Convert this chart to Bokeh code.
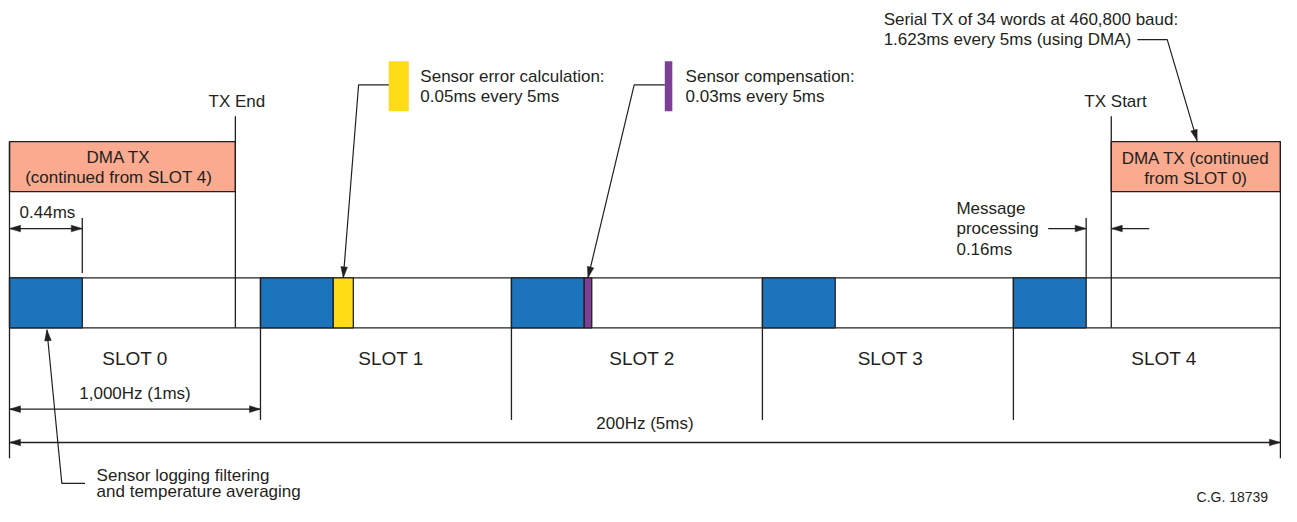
import math
from bokeh.plotting import figure
from bokeh.models import Range1d, ColumnDataSource
from bokeh.core.properties import value
from bokeh.embed import file_html
from bokeh.resources import INLINE

# ---------------- data (ms, as drawn) ----------------
slots = ["SLOT 0", "SLOT 1", "SLOT 2", "SLOT 3", "SLOT 4"]
slot_start = [0.0, 1.0, 2.0, 3.0, 4.0]
frame_end = 5.064           # drawn end of the 5 ms frame
filter_ms = [0.29, 0.29, 0.29, 0.29, 0.29]   # sensor logging / filtering blocks
err_calc_ms = 0.08          # sensor error calculation (slot 1)
comp_ms = 0.03              # sensor compensation (slot 2)
tx_end = 0.90
tx_start = 4.39
dim_labels = ["0.44ms", "1,000Hz (1ms)", "200Hz (5ms)"]

# ---------------- style / layout ----------------
W, H = 1281, 506
PX_PER_MS = 252.75 * 1271.0 / 1280.0
X0 = -9.0 / PX_PER_MS
X1 = X0 + W / PX_PER_MS
Y_SCALE = 0.98                      # screen px per layout unit (vertical)
BLUE = "#1C75BC"
SALMON = "#F9AA8F"
YELLOW = "#FFDC16"
PURPLE = "#7D3F98"
INK = "#231F20"
FONT = value("Liberation Sans")
FS = "17px"

Y_MARK_TOP, Y_DMA_TOP, Y_DMA_BOT = 118, 144, 195
Y_DIM, Y_EXT_TOP = 232.7, 222
Y_BAR_TOP, Y_BAR_BOT = 283, 334
Y_SLOT_LBL, Y_1MS, Y_SLOT_LINE_BOT, Y_5MS, Y_FRAME_BOT = 365, 417, 428, 451, 467

p = figure(width=W, height=H, output_backend="svg", toolbar_location=None,
           x_range=Range1d(X0, X1), y_range=Range1d(H / Y_SCALE, 0),
           min_border=0, outline_line_color=None,
           x_axis_location=None, y_axis_location=None)
p.grid.visible = False
p.background_fill_color = "white"
p.border_fill_color = "white"

heads = {"xs": [], "ys": []}


def head(xt, yt, xf, yf, L=11.0, Wd=3.3):
    dx = (xt - xf) * PX_PER_MS
    dy = (yt - yf) * Y_SCALE
    n = math.hypot(dx, dy)
    ux, uy = dx / n, dy / n
    bx, by = -L * ux, -L * uy
    px, py = -uy * Wd, ux * Wd
    heads["xs"].append([xt, xt + (bx + px) / PX_PER_MS, xt + (bx - px) / PX_PER_MS])
    heads["ys"].append([yt, yt + (by + py) / Y_SCALE, yt + (by - py) / Y_SCALE])


def seg(x0, y0, x1, y1, w=1.3):
    p.segment(x0=[x0], y0=[y0], x1=[x1], y1=[y1], line_color=INK, line_width=w)


def txt(x, y, s, align="left", size=FS):
    p.text(x=[x], y=[y], text=[s], text_font=FONT, text_font_size=size,
           text_color=INK, text_align=align, text_baseline="middle")


# DMA boxes
p.quad(left=[0.0, tx_start], right=[tx_end, frame_end], top=[Y_DMA_TOP] * 2,
       bottom=[Y_DMA_BOT] * 2, fill_color=SALMON, line_color=INK, line_width=1.3)

# bar row outline
seg(0.0, Y_BAR_TOP, frame_end, Y_BAR_TOP)
seg(0.0, Y_BAR_BOT, frame_end, Y_BAR_BOT)

# blocks
blk_l = list(slot_start)
blk_r = [s + f for s, f in zip(slot_start, filter_ms)]
p.quad(left=blk_l, right=blk_r, top=[Y_BAR_TOP] * 5, bottom=[Y_BAR_BOT] * 5,
       fill_color=BLUE, line_color=INK, line_width=1.3)
err_l = slot_start[1] + filter_ms[1]
cmp_l = slot_start[2] + filter_ms[2]
p.quad(left=[err_l, cmp_l], right=[err_l + err_calc_ms, cmp_l + comp_ms],
       top=[Y_BAR_TOP] * 2, bottom=[Y_BAR_BOT] * 2,
       fill_color=[YELLOW, PURPLE], line_color=INK, line_width=1.3)

# vertical lines
seg(0.0, Y_DMA_TOP, 0.0, Y_FRAME_BOT)
seg(frame_end, Y_DMA_TOP, frame_end, Y_FRAME_BOT)
for s in slot_start[1:]:
    seg(s, Y_BAR_TOP, s, Y_SLOT_LINE_BOT)
seg(tx_end, Y_MARK_TOP, tx_end, Y_BAR_BOT)
seg(tx_start, Y_MARK_TOP, tx_start, Y_BAR_BOT)
seg(blk_r[0], Y_EXT_TOP, blk_r[0], Y_BAR_TOP - 5)
seg(blk_r[4], Y_EXT_TOP, blk_r[4], Y_BAR_TOP)

# dimension arrows
seg(0.0, Y_DIM, blk_r[0], Y_DIM)
head(0.0, Y_DIM, blk_r[0], Y_DIM)
head(blk_r[0], Y_DIM, 0.0, Y_DIM)

mp_from_l = blk_r[4] - 38 / PX_PER_MS
mp_from_r = tx_start + 38 / PX_PER_MS
seg(mp_from_l, Y_DIM, blk_r[4], Y_DIM)
head(blk_r[4], Y_DIM, mp_from_l, Y_DIM)
seg(tx_start, Y_DIM, mp_from_r, Y_DIM)
head(tx_start, Y_DIM, mp_from_r, Y_DIM)

seg(0.0, Y_1MS, slot_start[1], Y_1MS)
head(0.0, Y_1MS, 1.0, Y_1MS)
head(slot_start[1], Y_1MS, 0.0, Y_1MS)

seg(0.0, Y_5MS, frame_end, Y_5MS)
head(0.0, Y_5MS, frame_end, Y_5MS)
head(frame_end, Y_5MS, 0.0, Y_5MS)

# legend swatches
sw_err = 1.511
sw_cmp = 2.611
p.quad(left=[sw_err, sw_cmp], right=[sw_err + err_calc_ms, sw_cmp + comp_ms],
       top=[62, 62], bottom=[113, 113], fill_color=[YELLOW, PURPLE], line_color=None)


# leader lines
def leader(xs, ys):
    p.line(x=xs, y=ys, line_color=INK, line_width=1.2)
    head(xs[-1], ys[-1], xs[-2], ys[-2])


leader([sw_err, 1.391, err_l + err_calc_ms / 2], [86, 86, Y_BAR_TOP])
leader([sw_cmp, 2.489, cmp_l + comp_ms / 2], [86, 86, Y_BAR_TOP])
leader([4.494, 4.613, 4.732], [40, 40, Y_DMA_TOP - 1])
leader([0.301, 0.2085, blk_r[0] / 2 + 0.004], [492.7, 492.7, Y_BAR_BOT + 2])

p.patches(xs="xs", ys="ys", source=ColumnDataSource(heads), fill_color=INK,
          line_color=INK, line_width=0.5)

# texts
txt(tx_end + 0.006, 103, "TX End", "center")
txt(tx_start + 0.017, 103, "TX Start", "center")
txt(0.435, 160, "DMA TX", "center")
txt(0.435, 181, "(continued from SLOT 4)", "center")
mid_r = (tx_start + frame_end) / 2
txt(mid_r, 161, "DMA TX (continued", "center")
txt(mid_r, 182, "from SLOT 0)", "center")
txt(0.04, 216, dim_labels[0])
txt(1.637, 77.5, "Sensor error calculation:")
txt(1.637, 98, "0.05ms every 5ms")
txt(2.694, 77.5, "Sensor compensation:")
txt(2.694, 98, "0.03ms every 5ms")
txt(3.483, 19, "Serial TX of 34 words at 460,800 baud:")
txt(3.483, 40, "1.623ms every 5ms (using DMA)")
txt(3.773, 212, "Message")
txt(3.773, 233, "processing")
txt(3.773, 254, "0.16ms")
slot_lbl_off = [0.50, 0.52, 0.52, 0.51, 0.60]
for s, o, name in zip(slot_start, slot_lbl_off, slots):
    txt(s + o, Y_SLOT_LBL, name, "center", "19px")
txt(0.5, 401.5, dim_labels[1], "center")
txt(frame_end / 2, 432, dim_labels[2], "center")
txt(0.347, 484.5, "Sensor logging filtering")
txt(0.347, 501, "and temperature averaging")
txt(5.015, 507, "C.G. 18739", "right", "14px")

open("out.html", "w").write(file_html(p, INLINE))
